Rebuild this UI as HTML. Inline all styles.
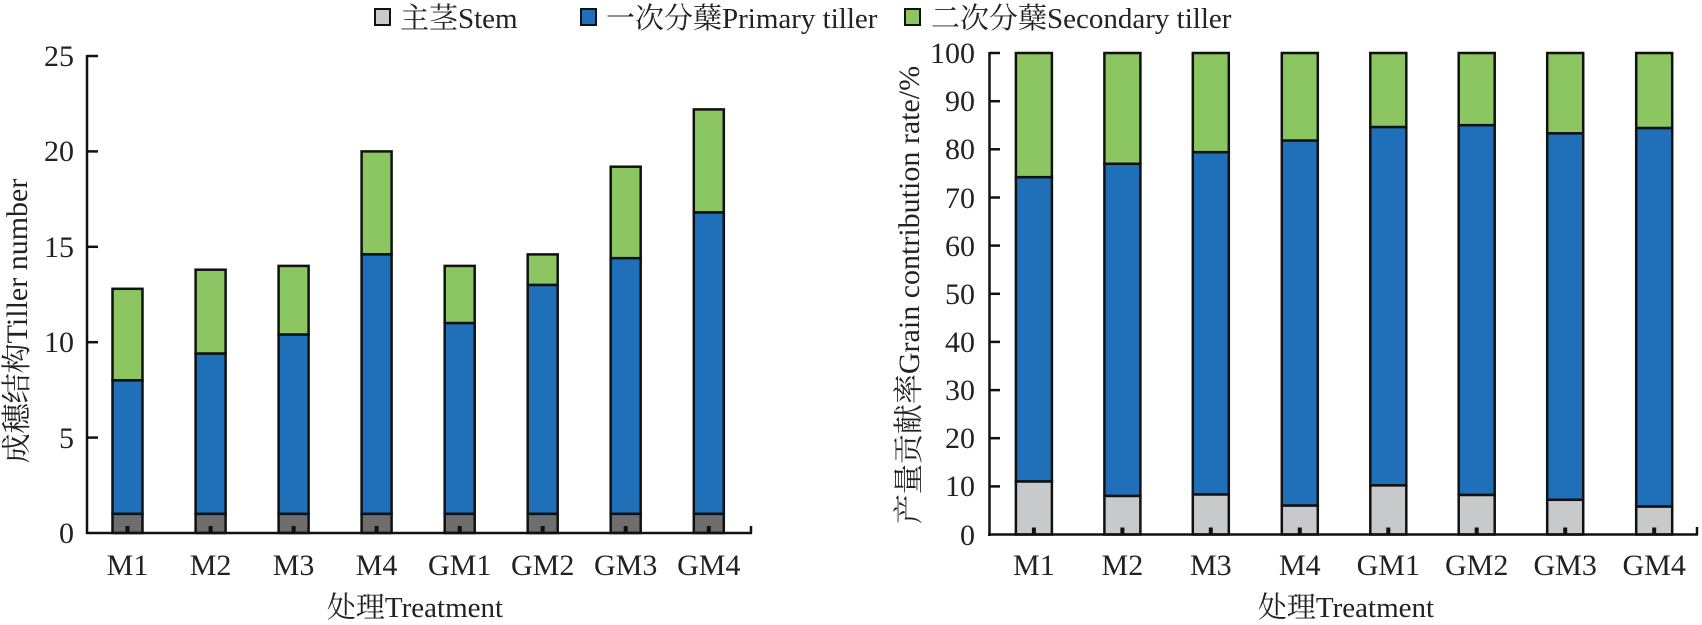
<!DOCTYPE html>
<html><head><meta charset="utf-8"><style>
html,body{margin:0;padding:0;background:#fff;}
svg{display:block;}
text{font-family:"Liberation Serif","Noto Serif CJK SC","Noto Sans CJK SC",serif;fill:#222;}
.t{font-size:30px;}
.l{font-size:29px;}
</style></head><body>
<svg width="1702" height="625" viewBox="0 0 1702 625" xmlns="http://www.w3.org/2000/svg">
<!-- Legend -->
<g stroke="#111" stroke-width="2">
<rect x="375" y="9" width="15" height="16" fill="#c8c9ca"/>
<rect x="581" y="9" width="15" height="16" fill="#1f70b8"/>
<rect x="905" y="9" width="15" height="16" fill="#8bc663"/>
</g>
<text class="l" x="400" y="28">主茎Stem</text>
<text class="l" x="606" y="28">一次分蘖Primary tiller</text>
<text class="l" x="931" y="28">二次分蘖Secondary tiller</text>

<!-- LEFT CHART -->
<g stroke="#111" stroke-width="2.5">
<rect x="112.5" y="288.8" width="30" height="91.6" fill="#8bc663"/>
<rect x="112.5" y="380.4" width="30" height="133.5" fill="#1f70b8"/>
<rect x="112.5" y="513.9" width="30" height="19.1" fill="#6f6e6f"/>
<rect x="195.6" y="269.7" width="30" height="83.9" fill="#8bc663"/>
<rect x="195.6" y="353.6" width="30" height="160.3" fill="#1f70b8"/>
<rect x="195.6" y="513.9" width="30" height="19.1" fill="#6f6e6f"/>
<rect x="278.6" y="265.9" width="30" height="68.7" fill="#8bc663"/>
<rect x="278.6" y="334.6" width="30" height="179.3" fill="#1f70b8"/>
<rect x="278.6" y="513.9" width="30" height="19.1" fill="#6f6e6f"/>
<rect x="361.6" y="151.4" width="30" height="103" fill="#8bc663"/>
<rect x="361.6" y="254.4" width="30" height="259.5" fill="#1f70b8"/>
<rect x="361.6" y="513.9" width="30" height="19.1" fill="#6f6e6f"/>
<rect x="444.7" y="265.9" width="30" height="57.2" fill="#8bc663"/>
<rect x="444.7" y="323.1" width="30" height="190.8" fill="#1f70b8"/>
<rect x="444.7" y="513.9" width="30" height="19.1" fill="#6f6e6f"/>
<rect x="527.7" y="254.4" width="30" height="30.6" fill="#8bc663"/>
<rect x="527.7" y="285" width="30" height="228.9" fill="#1f70b8"/>
<rect x="527.7" y="513.9" width="30" height="19.1" fill="#6f6e6f"/>
<rect x="610.7" y="166.7" width="30" height="91.5" fill="#8bc663"/>
<rect x="610.7" y="258.2" width="30" height="255.7" fill="#1f70b8"/>
<rect x="610.7" y="513.9" width="30" height="19.1" fill="#6f6e6f"/>
<rect x="693.8" y="109.4" width="30" height="103.1" fill="#8bc663"/>
<rect x="693.8" y="212.5" width="30" height="301.4" fill="#1f70b8"/>
<rect x="693.8" y="513.9" width="30" height="19.1" fill="#6f6e6f"/>
</g>
<g stroke="#111" stroke-width="2.5" fill="none">
<line x1="87" y1="55" x2="87" y2="534"/>
<line x1="86" y1="533" x2="752" y2="533"/>
<line x1="751" y1="533" x2="751" y2="526"/>
<line x1="87" y1="56" x2="98" y2="56"/>
<line x1="87" y1="151.4" x2="98" y2="151.4"/>
<line x1="87" y1="246.8" x2="98" y2="246.8"/>
<line x1="87" y1="342.2" x2="98" y2="342.2"/>
<line x1="87" y1="437.6" x2="98" y2="437.6"/>
</g>
<g fill="#111">
<rect x="125.5" y="526" width="4" height="7"/><rect x="208.6" y="526" width="4" height="7"/>
<rect x="291.6" y="526" width="4" height="7"/><rect x="374.6" y="526" width="4" height="7"/>
<rect x="457.7" y="526" width="4" height="7"/><rect x="540.7" y="526" width="4" height="7"/>
<rect x="623.7" y="526" width="4" height="7"/><rect x="706.8" y="526" width="4" height="7"/>
</g>
<g class="t" text-anchor="end">
<text x="74" y="66">25</text>
<text x="74" y="161">20</text>
<text x="74" y="257">15</text>
<text x="74" y="352">10</text>
<text x="74" y="448">5</text>
<text x="74" y="543">0</text>
</g>
<g class="t" text-anchor="middle">
<text x="127.5" y="575">M1</text>
<text x="210.6" y="575">M2</text>
<text x="293.6" y="575">M3</text>
<text x="376.6" y="575">M4</text>
<text x="459.7" y="575">GM1</text>
<text x="542.7" y="575">GM2</text>
<text x="625.7" y="575">GM3</text>
<text x="708.8" y="575">GM4</text>
<text x="415" y="617" style="font-size:29px">处理Treatment</text>
</g>
<text class="t" text-anchor="middle" transform="translate(27,321) rotate(-90)">成穗结构Tiller number</text>

<!-- RIGHT CHART -->
<g stroke="#111" stroke-width="2.5">
<rect x="1015.9" y="53" width="36" height="124.2" fill="#8bc663"/>
<rect x="1015.9" y="177.2" width="36" height="304.3" fill="#1f70b8"/>
<rect x="1015.9" y="481.5" width="36" height="53" fill="#c8c9ca"/>
<rect x="1104.4" y="53" width="36" height="110.8" fill="#8bc663"/>
<rect x="1104.4" y="163.8" width="36" height="332.2" fill="#1f70b8"/>
<rect x="1104.4" y="496" width="36" height="38.5" fill="#c8c9ca"/>
<rect x="1192.8" y="53" width="36" height="99.2" fill="#8bc663"/>
<rect x="1192.8" y="152.2" width="36" height="342.3" fill="#1f70b8"/>
<rect x="1192.8" y="494.5" width="36" height="40" fill="#c8c9ca"/>
<rect x="1281.8" y="53" width="36" height="87.6" fill="#8bc663"/>
<rect x="1281.8" y="140.6" width="36" height="365" fill="#1f70b8"/>
<rect x="1281.8" y="505.6" width="36" height="28.9" fill="#c8c9ca"/>
<rect x="1370.3" y="53" width="36" height="74.1" fill="#8bc663"/>
<rect x="1370.3" y="127.1" width="36" height="358.3" fill="#1f70b8"/>
<rect x="1370.3" y="485.4" width="36" height="49.1" fill="#c8c9ca"/>
<rect x="1458.7" y="53" width="36" height="72.2" fill="#8bc663"/>
<rect x="1458.7" y="125.2" width="36" height="369.8" fill="#1f70b8"/>
<rect x="1458.7" y="495" width="36" height="39.5" fill="#c8c9ca"/>
<rect x="1547.2" y="53" width="36" height="80.4" fill="#8bc663"/>
<rect x="1547.2" y="133.4" width="36" height="366.4" fill="#1f70b8"/>
<rect x="1547.2" y="499.8" width="36" height="34.7" fill="#c8c9ca"/>
<rect x="1636.2" y="53" width="36" height="75.1" fill="#8bc663"/>
<rect x="1636.2" y="128.1" width="36" height="378.5" fill="#1f70b8"/>
<rect x="1636.2" y="506.6" width="36" height="27.9" fill="#c8c9ca"/>
</g>
<g stroke="#111" stroke-width="2.5" fill="none">
<line x1="989.5" y1="52" x2="989.5" y2="536"/>
<line x1="988" y1="534.5" x2="1698" y2="534.5"/>
<line x1="1697" y1="534.5" x2="1697" y2="527"/>
<line x1="989.5" y1="53" x2="1000" y2="53"/>
<line x1="989.5" y1="101.2" x2="1000" y2="101.2"/>
<line x1="989.5" y1="149.3" x2="1000" y2="149.3"/>
<line x1="989.5" y1="197.5" x2="1000" y2="197.5"/>
<line x1="989.5" y1="245.6" x2="1000" y2="245.6"/>
<line x1="989.5" y1="293.8" x2="1000" y2="293.8"/>
<line x1="989.5" y1="341.9" x2="1000" y2="341.9"/>
<line x1="989.5" y1="390.1" x2="1000" y2="390.1"/>
<line x1="989.5" y1="438.2" x2="1000" y2="438.2"/>
<line x1="989.5" y1="486.4" x2="1000" y2="486.4"/>
</g>
<g fill="#111">
<rect x="1031.9" y="527.5" width="4" height="7"/><rect x="1120.4" y="527.5" width="4" height="7"/>
<rect x="1208.8" y="527.5" width="4" height="7"/><rect x="1297.8" y="527.5" width="4" height="7"/>
<rect x="1386.3" y="527.5" width="4" height="7"/><rect x="1474.7" y="527.5" width="4" height="7"/>
<rect x="1563.2" y="527.5" width="4" height="7"/><rect x="1652.2" y="527.5" width="4" height="7"/>
</g>
<g class="t" text-anchor="end">
<text x="975" y="63">100</text>
<text x="975" y="111">90</text>
<text x="975" y="159">80</text>
<text x="975" y="208">70</text>
<text x="975" y="256">60</text>
<text x="975" y="304">50</text>
<text x="975" y="352">40</text>
<text x="975" y="400">30</text>
<text x="975" y="448">20</text>
<text x="975" y="496">10</text>
<text x="975" y="545">0</text>
</g>
<g class="t" text-anchor="middle">
<text x="1033.9" y="575">M1</text>
<text x="1122.4" y="575">M2</text>
<text x="1210.8" y="575">M3</text>
<text x="1299.8" y="575">M4</text>
<text x="1388.3" y="575">GM1</text>
<text x="1476.7" y="575">GM2</text>
<text x="1565.2" y="575">GM3</text>
<text x="1654.2" y="575">GM4</text>
<text x="1346" y="617" style="font-size:29px">处理Treatment</text>
</g>
<text class="t" text-anchor="middle" transform="translate(919,295) rotate(-90)">产量贡献率Grain contribution rate/%</text>
</svg>
</body></html>
